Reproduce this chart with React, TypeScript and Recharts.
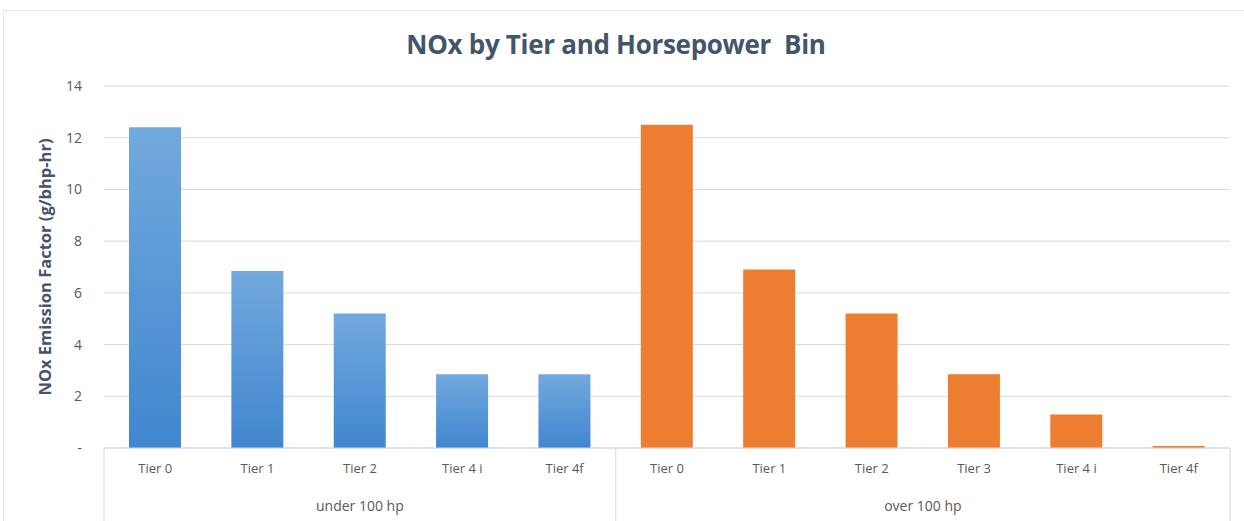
import { BarChart, Bar, XAxis, YAxis, CartesianGrid } from 'recharts';

const groups = ['under 100 hp', 'over 100 hp'];
const underTiers = ['Tier 0', 'Tier 1', 'Tier 2', 'Tier 4 i', 'Tier 4f'];
const underValues = [12.4, 6.85, 5.2, 2.85, 2.85];
const overTiers = ['Tier 0', 'Tier 1', 'Tier 2', 'Tier 3', 'Tier 4 i', 'Tier 4f'];
const overValues = [12.5, 6.9, 5.2, 2.85, 1.3, 0.08];
const yTicks = [0, 2, 4, 6, 8, 10, 12, 14];

const data = [
  ...underTiers.map((tier, i) => ({ tier, group: groups[0], under: underValues[i], over: 0 })),
  ...overTiers.map((tier, i) => ({ tier, group: groups[1], under: 0, over: overValues[i] })),
];

const W = 1244;
const H = 521;
const LEFT = 104;
const RIGHT = 14;
const BAND = (W - LEFT - RIGHT) / data.length;
const FONT = '"Open Sans", sans-serif';
const LINE = '#d9d9d9';

const GroupTick = (props: any) => {
  const { x, y, payload } = props;
  const i = payload.index;
  const nUnder = underTiers.length;
  const els = [];
  if (i === 0) els.push(<line key="l0" x1={x - BAND / 2} x2={x - BAND / 2} y1={y - 36} y2={y + 40} stroke={LINE} />);
  if (i === nUnder - 1 || i === data.length - 1)
    els.push(<line key="lr" x1={x + BAND / 2} x2={x + BAND / 2} y1={y - 36} y2={y + 40} stroke={LINE} />);
  if (i === Math.floor(nUnder / 2))
    els.push(<text key="t" x={x} y={y + 27} textAnchor="middle" fill="#595959" fontSize={14} fontFamily={FONT}>{groups[0]}</text>);
  const overMid = nUnder + overTiers.length / 2 - 1;
  if (i === overMid)
    els.push(<text key="t" x={x + BAND / 2} y={y + 27} textAnchor="middle" fill="#595959" fontSize={14} fontFamily={FONT}>{groups[1]}</text>);
  return <g>{els}</g>;
};

const App = () => {
  return (
    <div style={{ position: 'absolute', left: 0, top: 0, width: W, height: H, background: '#fff', overflow: 'hidden' }}>
      <div style={{ position: 'absolute', left: 3, top: 10, width: W, height: H, border: `1px solid #e4e4e4` }} />
      <div
        style={{
          position: 'absolute', left: 0, top: 26, width: W - 12, textAlign: 'center',
          fontFamily: FONT, fontWeight: 700, fontSize: 26, color: '#44546a', letterSpacing: -0.3,
        }}
      >
        NOx by Tier and Horsepower&nbsp; Bin
      </div>
      <div style={{ position: 'absolute', left: 0, top: 0 }}>
        <BarChart width={W} height={H} data={data} margin={{ top: 86, right: RIGHT, left: 40, bottom: 0 }} barSize={52}>
          <defs>
            <linearGradient id="blueGrad" x1="0" y1="0" x2="0" y2="1">
              <stop offset="0%" stopColor="#72a9de" />
              <stop offset="100%" stopColor="#4086cf" />
            </linearGradient>
          </defs>
          <CartesianGrid vertical={false} stroke={LINE} />
          <XAxis
            dataKey="tier"
            axisLine={{ stroke: LINE }}
            tickLine={false}
            tickSize={0}
            tickMargin={16}
            height={36}
            interval={0}
            tick={{ fill: '#595959', fontSize: 13, fontFamily: FONT }}
          />
          <XAxis
            xAxisId="grp"
            dataKey="tier"
            axisLine={false}
            tickLine={false}
            tickSize={0}
            tickMargin={0}
            height={37}
            interval={0}
            tick={<GroupTick />}
          />
          <YAxis
            domain={[0, 14]}
            ticks={yTicks}
            axisLine={false}
            tickLine={false}
            tickSize={0}
            tickMargin={22}
            width={64}
            tickFormatter={(v: number) => (v === 0 ? '-' : String(v))}
            tick={{ fill: '#595959', fontSize: 14, fontFamily: FONT }}
            label={{
              value: 'NOx Emission Factor (g/bhp-hr)',
              angle: -90,
              position: 'insideLeft',
              offset: 5,
              style: { textAnchor: 'middle', fill: '#44546a', fontSize: 16.5, fontWeight: 700, fontFamily: FONT },
            }}
          />
          <Bar dataKey="under" stackId="a" fill="url(#blueGrad)" isAnimationActive={false} />
          <Bar dataKey="over" stackId="a" fill="#ed7d31" isAnimationActive={false} />
        </BarChart>
      </div>
    </div>
  );
};

export default App;
